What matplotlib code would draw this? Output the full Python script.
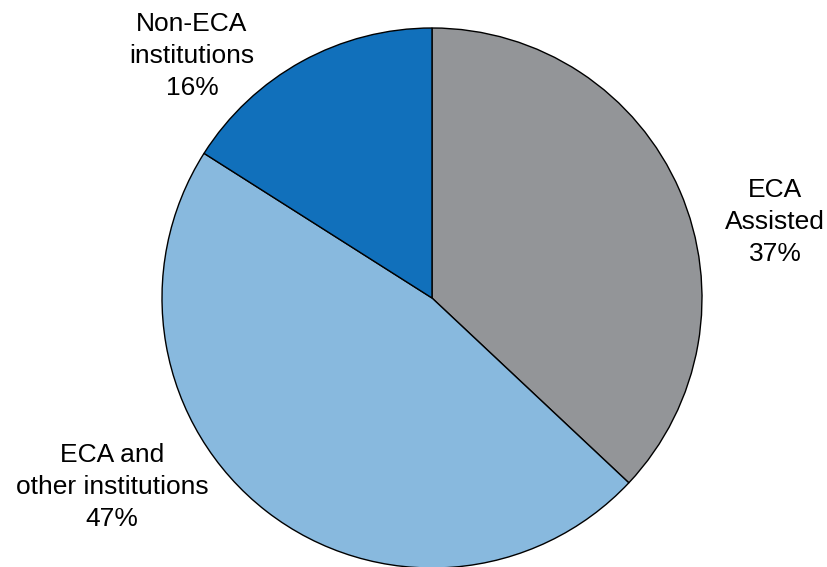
import matplotlib.pyplot as plt

# Share of funding by source
labels  = ['ECA\nAssisted', 'ECA and\nother institutions', 'Non-ECA\ninstitutions']
shares  = [37, 47, 16]
colors  = ['#939598', '#88b9de', '#1170bb']

# label anchor points (pixel coords of the figure, from top-left)
label_px = [(775, 222), (112, 487), (192, 56)]

W, H    = 828, 567
cx, cy  = 432, 298
R       = 270.

plt.rcParams['font.family'] = ['Liberation Sans', 'DejaVu Sans']

fig = plt.figure(figsize=(W / 100., H / 100.), dpi=100)
ax  = fig.add_axes([0, 0, 1, 1])

ax.pie(shares, colors=colors, startangle=90, counterclock=False,
       wedgeprops=dict(edgecolor='black', linewidth=1.0))

ax.set_xlim(-cx / R, (W - cx) / R)
ax.set_ylim(-(H - cy) / R, cy / R)
ax.set_aspect('equal')
ax.axis('off')

for lab, val, (px, py) in zip(labels, shares, label_px):
    ax.text((px - cx) / R, (cy - py) / R, '{}\n{}%'.format(lab, val),
            ha='center', va='center', fontsize=19, linespacing=1.4)

fig.savefig('out.png', dpi=100)
